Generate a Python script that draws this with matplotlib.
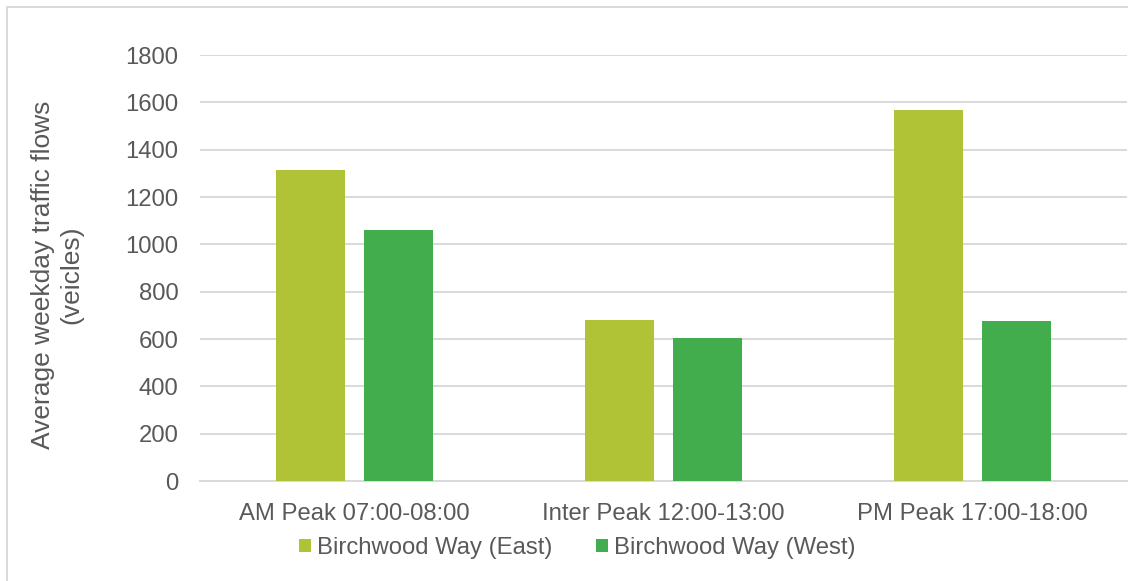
import matplotlib
matplotlib.use("Agg")
import matplotlib.pyplot as plt
import numpy as np
from matplotlib.patches import Rectangle

categories = ["AM Peak 07:00-08:00", "Inter Peak 12:00-13:00", "PM Peak 17:00-18:00"]
east = [1316, 680, 1567]
west = [1062, 605, 675]
series_names = ["Birchwood Way (East)", "Birchwood Way (West)"]
y_ticks = [0, 200, 400, 600, 800, 1000, 1200, 1400, 1600, 1800]

plt.rcParams['font.family'] = ['Liberation Sans', 'DejaVu Sans']
text_color = "#595959"
grid_color = "#D9D9D9"
c_east = "#B0C236"
c_west = "#41AD4D"
fs = 17.2

W, H = 1128, 581
fig = plt.figure(figsize=(W/100, H/100), dpi=100)
ax = fig.add_axes([200/W, (H-481)/H, (1127-200)/W, (481-55)/H])

x = np.arange(len(categories))
bw = 0.223
off = bw/2 + 0.031
ax.bar(x - off, east, bw, color=c_east, label=series_names[0], zorder=3)
ax.bar(x + off, west, bw, color=c_west, label=series_names[1], zorder=3)

ax.set_xlim(-0.5, len(categories) - 0.5)
ax.set_ylim(0, 1800)
ax.set_yticks(y_ticks)
ax.set_yticklabels([str(v) for v in y_ticks])
ax.set_xticks(x)
ax.set_xticklabels(categories)
ax.tick_params(axis='both', length=0, labelsize=fs, colors=text_color)
ax.tick_params(axis='y', pad=15.5)
ax.tick_params(axis='x', pad=15.5)
ax.yaxis.grid(True, color=grid_color, linewidth=1.4, zorder=0)
ax.set_axisbelow(True)
for s in ['top', 'right', 'left']:
    ax.spines[s].set_visible(False)
ax.spines['bottom'].set_color(grid_color)
ax.spines['bottom'].set_linewidth(1.4)

fig.text(57/W, 1 - 275/H, "Average weekday traffic flows\n(veicles)", rotation=90,
         ha='center', va='center', fontsize=19, color=text_color, linespacing=1.2)

fig.legend(loc='center', bbox_to_anchor=(577.5/W, 1 - 548/H), ncol=2, frameon=False,
           fontsize=fs, labelcolor=text_color, handlelength=0.5, handleheight=0.5,
           handletextpad=0.25, columnspacing=1.84, borderpad=0, borderaxespad=0)

fig.patches.append(Rectangle((7/W, -0.05), 1.2, 1 - 7/H + 0.05, transform=fig.transFigure,
                             fill=False, edgecolor=grid_color, linewidth=1.4, zorder=0))

fig.savefig("out.png", dpi=100)
